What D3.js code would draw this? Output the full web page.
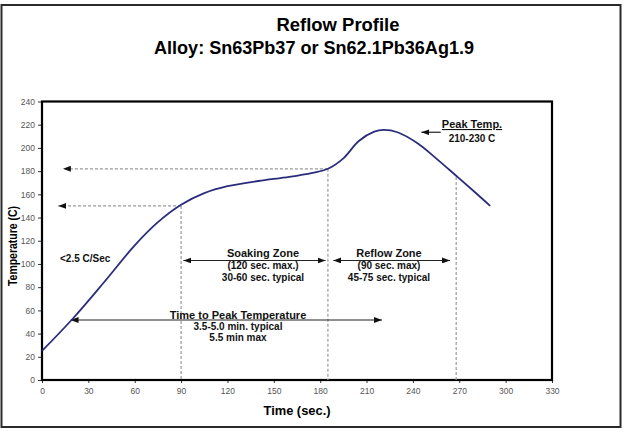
<!DOCTYPE html>
<html>
<head>
<meta charset="utf-8">
<script src="https://d3js.org/d3.v7.min.js"></script>
<style>
  body { margin: 0; background: #fff; }
  text { font-family: "Liberation Sans", Arial, sans-serif; }
</style>
</head>
<body>
<svg id="chart" width="628" height="432"></svg>
<script>
// Reflow profile readings (time in sec., temperature in C)
var times = [0, 20, 40, 60, 75, 90, 105, 120, 140, 160, 175, 185, 195, 205, 215, 221, 230, 243, 255, 268, 280, 290];
var temps = [25, 53, 84, 116, 136, 151, 161, 167, 171.5, 175, 178.5, 182, 191, 206, 214, 215.5, 213.5, 204, 191, 176, 162, 150];

var xTicks = [0, 30, 60, 90, 120, 150, 180, 210, 240, 270, 300, 330];
var yTicks = [0, 20, 40, 60, 80, 100, 120, 140, 160, 180, 200, 220, 240];

// zone markers: vertical dashed lines at these times, from the curve down to 0
var markerTimes = [90, 185, 268];
var markerTemps = [150, 182, 175];

// dashed pointers back to the temperature axis
var levelTemps = [182, 150];
var levelFrom = [185, 90];
var levelTo = [13.5, 10.5];

var svg = d3.select("#chart");

var x = d3.scaleLinear().domain([0, 330]).range([42, 552]);
var y = d3.scaleLinear().domain([0, 240]).range([380, 101.5]);

// arrowheads
var defs = svg.append("defs");
defs.append("marker")
    .attr("id", "head")
    .attr("viewBox", "0 0 8 6")
    .attr("refX", 8).attr("refY", 3)
    .attr("markerWidth", 8).attr("markerHeight", 6)
    .attr("markerUnits", "userSpaceOnUse")
    .attr("orient", "auto-start-reverse")
    .append("path")
    .attr("d", "M0,0 L8,3 L0,6 Z")
    .attr("fill", "#111");

// outer frame
svg.append("rect")
    .attr("x", 1.5).attr("y", 5)
    .attr("width", 619).attr("height", 422)
    .attr("fill", "none")
    .attr("stroke", "#2a2a2a")
    .attr("stroke-width", 2);

// titles
svg.append("text")
    .attr("x", 338).attr("y", 31)
    .attr("text-anchor", "middle")
    .attr("font-size", 18).attr("font-weight", "bold")
    .attr("textLength", 123).attr("lengthAdjust", "spacingAndGlyphs")
    .text("Reflow Profile");
svg.append("text")
    .attr("x", 314).attr("y", 54)
    .attr("text-anchor", "middle")
    .attr("font-size", 18).attr("font-weight", "bold")
    .attr("textLength", 320).attr("lengthAdjust", "spacingAndGlyphs")
    .text("Alloy: Sn63Pb37 or Sn62.1Pb36Ag1.9");

// axes
var yAxis = svg.append("g")
    .attr("transform", "translate(" + x(0) + ",0)")
    .call(d3.axisLeft(y).tickValues(yTicks).tickSize(4).tickPadding(3));
var xAxis = svg.append("g")
    .attr("transform", "translate(0," + y(0) + ")")
    .call(d3.axisBottom(x).tickValues(xTicks).tickSize(3).tickPadding(5));
[xAxis, yAxis].forEach(function (g) {
    g.select(".domain").remove();
    g.selectAll("line").attr("stroke", "#333");
    g.selectAll("text")
        .attr("font-size", 8.5)
        .attr("fill", "#555")
        .style("font-family", "'Liberation Sans', Arial, sans-serif");
});

// plot frame
svg.append("rect")
    .attr("x", x(0)).attr("y", y(240))
    .attr("width", x(330) - x(0)).attr("height", y(0) - y(240))
    .attr("fill", "none")
    .attr("stroke", "#000")
    .attr("stroke-width", 2.2);

// axis titles
svg.append("text")
    .attr("transform", "translate(17," + 246 + ") rotate(-90)")
    .attr("text-anchor", "middle")
    .attr("font-size", 12).attr("font-weight", "bold")
    .attr("textLength", 80).attr("lengthAdjust", "spacingAndGlyphs")
    .text("Temperature (C)");
svg.append("text")
    .attr("x", 297).attr("y", 415)
    .attr("text-anchor", "middle")
    .attr("font-size", 12).attr("font-weight", "bold")
    .attr("textLength", 67).attr("lengthAdjust", "spacingAndGlyphs")
    .text("Time (sec.)");

// vertical dashed zone markers
svg.selectAll(".vmark")
    .data(markerTimes)
    .enter().append("line")
    .attr("class", "vmark")
    .attr("x1", function (d) { return x(d); })
    .attr("x2", function (d) { return x(d); })
    .attr("y1", function (d, i) { return y(markerTemps[i]); })
    .attr("y2", y(0))
    .attr("stroke", "#999")
    .attr("stroke-width", 1.2)
    .attr("stroke-dasharray", "3,2");

// dashed level pointers
svg.selectAll(".level")
    .data(levelTemps)
    .enter().append("line")
    .attr("class", "level")
    .attr("x1", function (d, i) { return x(levelFrom[i]); })
    .attr("x2", function (d, i) { return x(levelTo[i]); })
    .attr("y1", function (d) { return y(d); })
    .attr("y2", function (d) { return y(d); })
    .attr("stroke", "#999")
    .attr("stroke-width", 1.2)
    .attr("stroke-dasharray", "3,2")
    .attr("marker-end", "url(#head)");

// solid arrows: zones, time to peak, peak temp
function arrow(t0, t1, T, both) {
    var l = svg.append("line")
        .attr("x1", x(t0)).attr("x2", x(t1))
        .attr("y1", y(T)).attr("y2", y(T))
        .attr("stroke", "#222")
        .attr("stroke-width", 1.2)
        .attr("marker-end", "url(#head)");
    if (both) l.attr("marker-start", "url(#head)");
}
arrow(91.5, 183.5, 103, true);
arrow(188.5, 264, 103, true);
arrow(18.5, 220, 51.7, true);
arrow(258, 245.5, 213.5, false);

// profile curve
var pts = times.map(function (t, i) { return [t, temps[i]]; });
svg.append("path")
    .datum(pts)
    .attr("fill", "none")
    .attr("stroke", "#2b2d7c")
    .attr("stroke-width", 1.8)
    .attr("d", d3.line()
        .x(function (d) { return x(d[0]); })
        .y(function (d) { return y(d[1]); })
        .curve(d3.curveCatmullRom.alpha(0.5)));

// labels
function label(px, py, str, size, anchor) {
    return svg.append("text")
        .attr("x", px).attr("y", py)
        .attr("text-anchor", anchor || "middle")
        .attr("font-size", size)
        .attr("font-weight", "bold")
        .attr("fill", "#111")
        .text(str);
}
label(60, 262, "<2.5 C/Sec", 10, "start");
label(263, 257, "Soaking Zone", 11);
label(263, 269, "(120 sec. max.)", 10);
label(263, 281, "30-60 sec. typical", 10);
label(389, 257, "Reflow Zone", 11);
label(389, 269, "(90 sec. max)", 10);
label(389, 281, "45-75 sec. typical", 10);
label(238, 319, "Time to Peak Temperature", 11);
label(238, 330, "3.5-5.0 min. typical", 10);
label(238, 341, "5.5 min max", 10);
label(472, 128, "Peak Temp.", 11).attr("text-decoration", "underline");
label(472, 142, "210-230 C", 10);
</script>
</body>
</html>
